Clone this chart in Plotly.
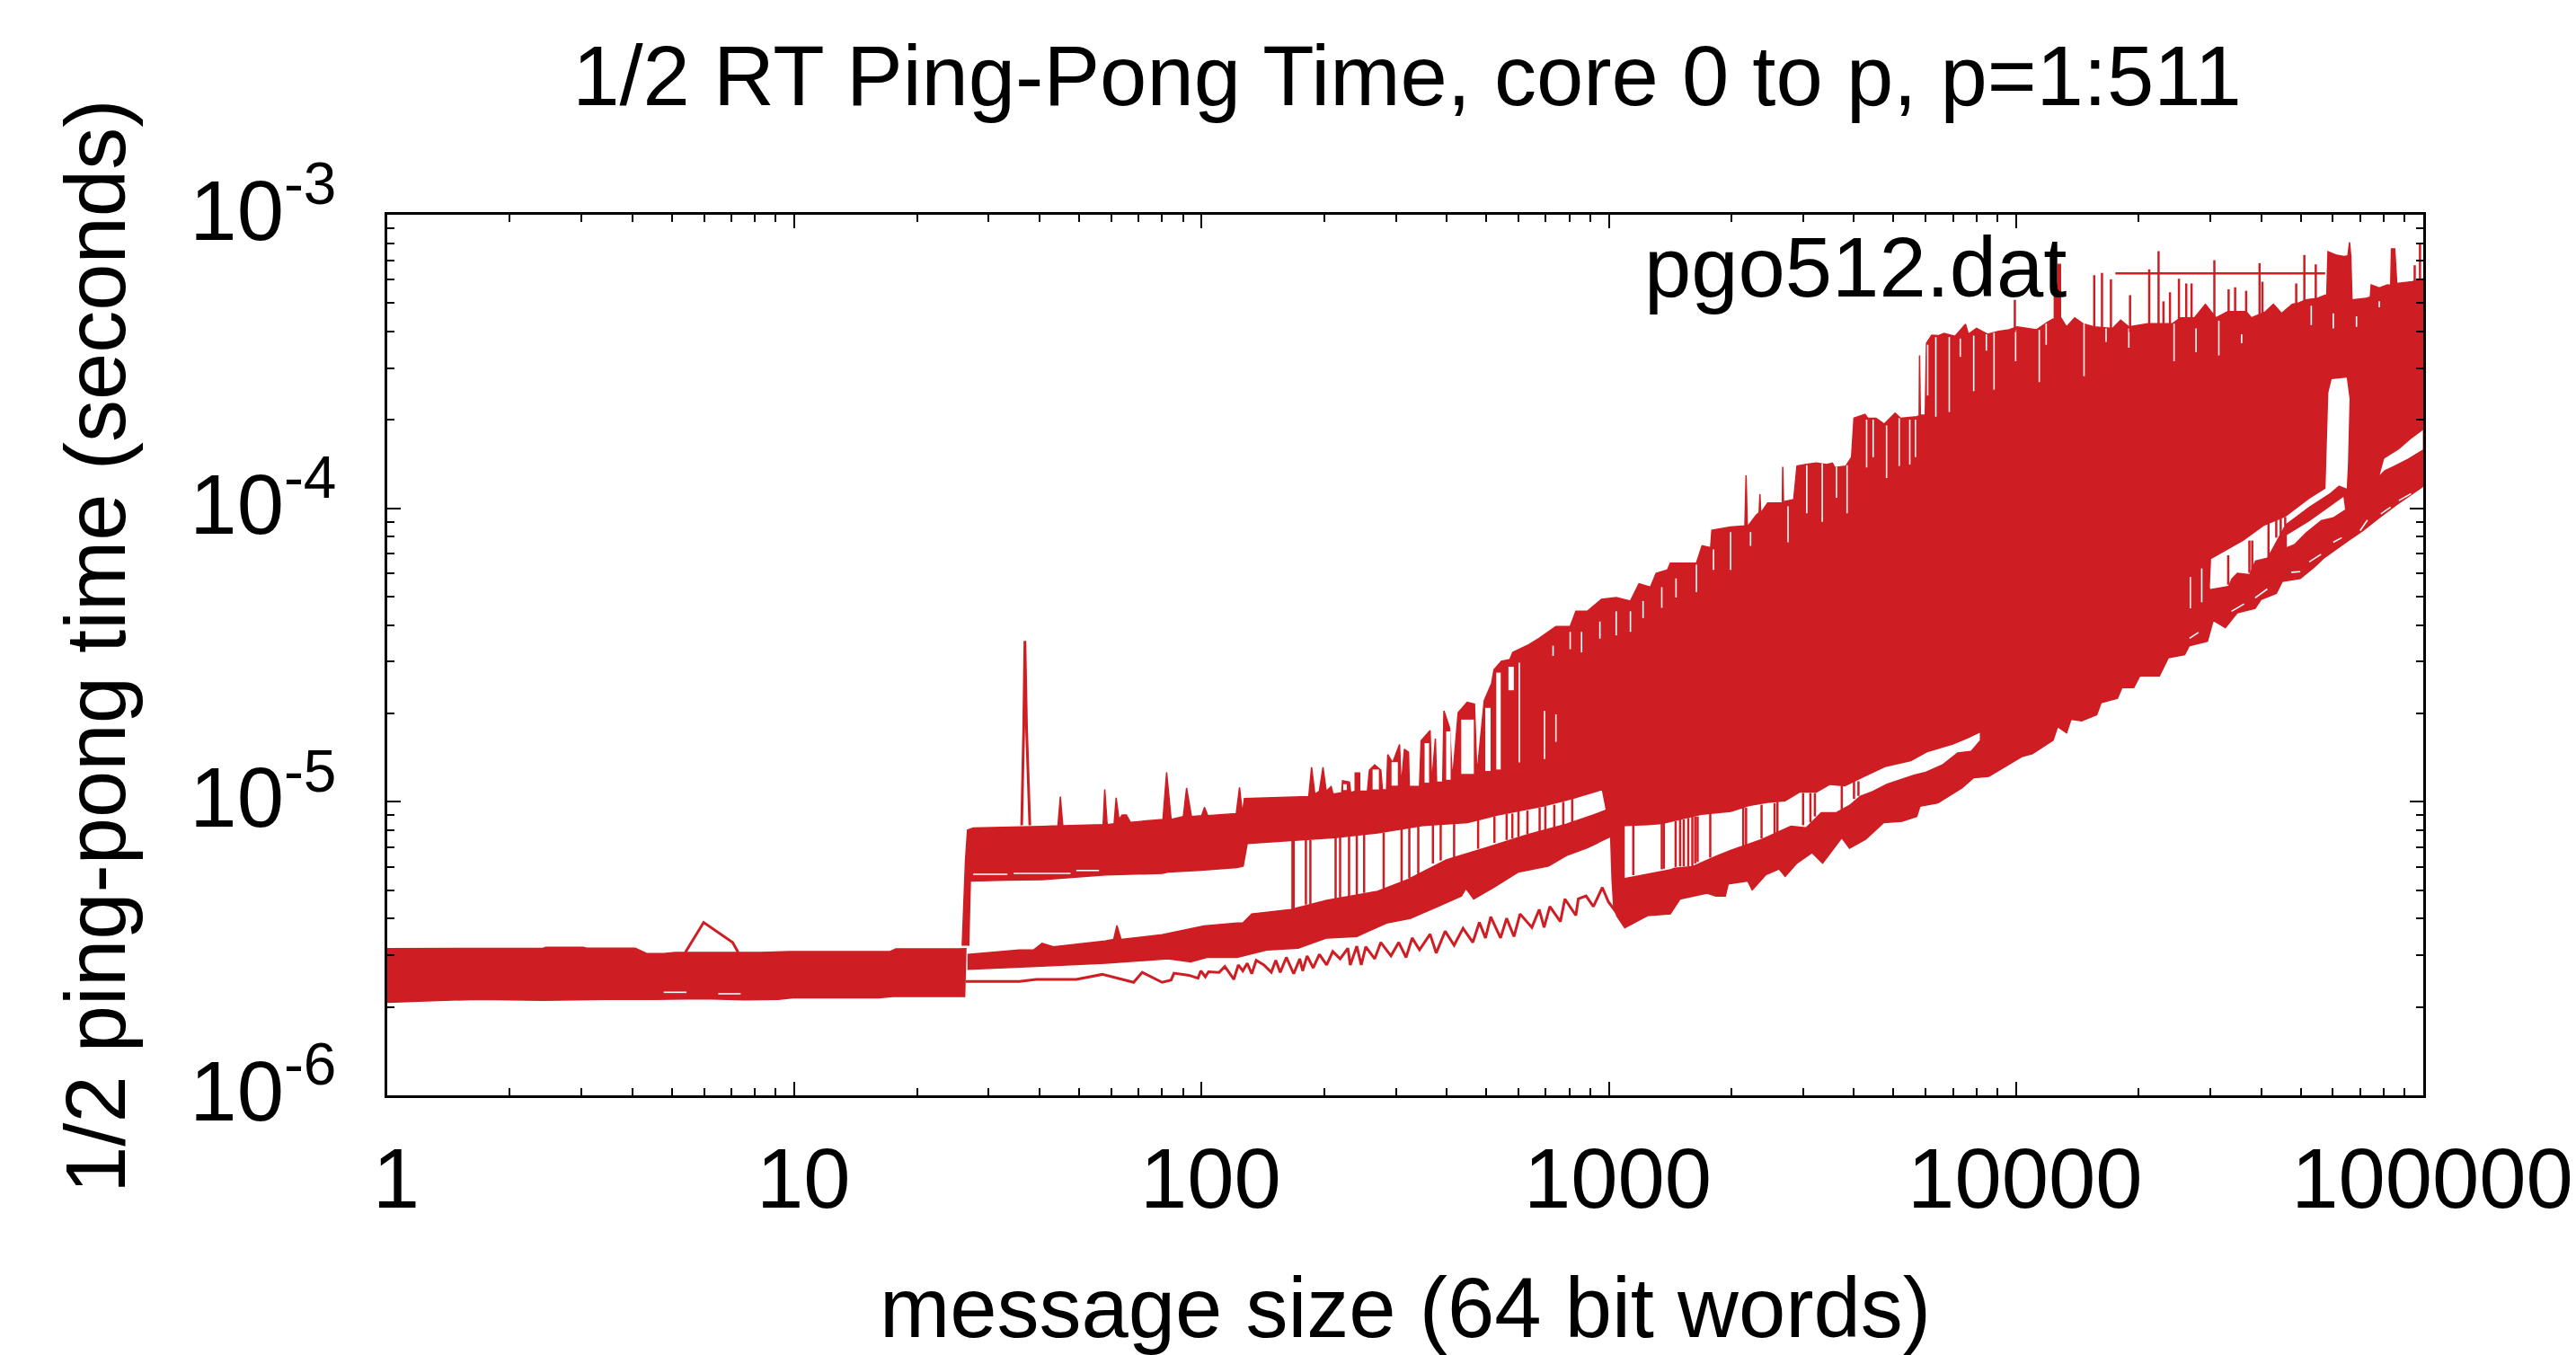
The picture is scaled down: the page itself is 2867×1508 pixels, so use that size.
import numpy as np
import plotly.graph_objects as go

# All readings are (log10 message size, log10 seconds).
plateau_upper = [(0,-5.500),(.383,-5.499),(.390,-5.496),(.482,-5.496),(.489,-5.499),(.609,-5.499),(.637,-5.517),(.679,-5.517),
    (.707,-5.513),(.918,-5.513),(.989,-5.510),(1.235,-5.510),(1.249,-5.501),(1.404,-5.501),(1.421,-5.500)]
plateau_lower = [(1.418,-5.663),(1.404,-5.663),(1.242,-5.663),(1.207,-5.668),(.996,-5.668),(.960,-5.673),(.876,-5.675),(.777,-5.671),
    (.651,-5.673),(.538,-5.673),(.383,-5.676),(.222,-5.673),(.109,-5.678),(0,-5.683)]
bump_line = [(.732,-5.513),(.777,-5.411),(.848,-5.479),(.862,-5.513)]
tall_spike = [(1.558,-5.08),(1.563,-4.75),(1.566,-4.452),(1.570,-4.75),(1.578,-5.08)]

main_upper = [(1.412,-5.49),(1.420,-5.2),(1.425,-5.096),(1.439,-5.089),(1.608,-5.084),(1.647,-5.082),(1.653,-4.982),(1.659,-5.082),
    (1.758,-5.078),(1.762,-4.958),(1.768,-5.078),(1.785,-5.075),(1.790,-4.986),(1.797,-5.06),(1.805,-5.045),(1.815,-5.045),(1.825,-5.07),
    (1.905,-5.06),(1.914,-4.900),(1.925,-5.06),(1.955,-5.05),(1.963,-4.953),(1.975,-5.05),(2.0,-5.047),(2.007,-5.019),(2.015,-5.047),
    (2.085,-5.04),(2.093,-4.951),(2.100,-5.04),(2.105,-4.989),(2.263,-4.982),(2.270,-4.882),(2.278,-4.974),(2.289,-4.964),(2.298,-4.882),
    (2.306,-4.964),(2.318,-4.948),(2.323,-4.974),(2.344,-4.969),(2.346,-4.928),(2.363,-4.933),(2.366,-4.969),(2.377,-4.964),(2.377,-4.902),
    (2.388,-4.902),(2.388,-4.964),(2.407,-4.964),(2.412,-4.892),(2.425,-4.874),(2.440,-4.892),(2.444,-4.959),(2.454,-4.959),(2.457,-4.839),
    (2.469,-4.867),(2.486,-4.805),(2.490,-4.948),(2.498,-4.821),(2.508,-4.831),(2.510,-4.948),(2.535,-4.948),(2.539,-4.792),(2.561,-4.757),
    (2.565,-4.938),(2.574,-4.785),(2.577,-4.933),(2.592,-4.933),(2.595,-4.690),(2.609,-4.749),(2.616,-4.925),(2.630,-4.696),(2.652,-4.661),
    (2.670,-4.667),(2.676,-4.907),(2.694,-4.655),(2.712,-4.597),(2.718,-4.550),(2.736,-4.521),(2.757,-4.515),(2.764,-4.491),(2.799,-4.468),
    (2.828,-4.444),(2.870,-4.403),(2.905,-4.403),(2.919,-4.351),(2.947,-4.351),(2.982,-4.310),(3.018,-4.304),(3.053,-4.316),(3.074,-4.257),
    (3.102,-4.269),(3.116,-4.222),(3.144,-4.210),(3.151,-4.187),(3.215,-4.187),(3.229,-4.128),(3.250,-4.134),(3.253,-4.075),(3.299,-4.064),
    (3.334,-4.060),(3.337,-3.888),(3.340,-4.060),(3.343,-4.058),(3.362,-4.023),(3.369,-4.015),(3.371,-3.952),(3.373,-4.013),(3.376,-4.011),(3.390,-3.982),(3.426,-3.982),(3.427,-3.859),
    (3.429,-3.980),(3.433,-3.976),(3.454,-3.970),(3.462,-3.856),(3.482,-3.851),(3.509,-3.846),(3.535,-3.851),(3.549,-3.846),(3.555,-3.861),(3.582,-3.856),
    (3.596,-3.826),(3.602,-3.693),(3.629,-3.680),(3.636,-3.693),(3.656,-3.693),(3.676,-3.713),(3.703,-3.676),(3.716,-3.693),(3.756,-3.688),
    (3.762,-3.685),(3.763,-3.479),(3.765,-3.683),(3.777,-3.683),(3.780,-3.438),(3.793,-3.410),(3.809,-3.412),(3.823,-3.404),(3.850,-3.414),(3.876,-3.373),(3.883,-3.407),
    (3.903,-3.387),(3.930,-3.407),(3.957,-3.397),(3.983,-3.392),(4.003,-3.382),(4.050,-3.392),(4.077,-3.366),(4.090,-3.356),(4.110,-3.351),
    (4.124,-3.382),(4.144,-3.351),(4.164,-3.371),(4.191,-3.382),(4.237,-3.387),(4.257,-3.359),(4.277,-3.382),(4.324,-3.371),(4.355,-3.371),
    (4.384,-3.371),(4.404,-3.351),(4.438,-3.351),(4.465,-3.305),(4.491,-3.351),(4.520,-3.33),(4.565,-3.33),(4.578,-3.351),(4.612,-3.331),
    (4.632,-3.305),(4.652,-3.336),(4.678,-3.305),(4.695,-3.300),(4.712,-3.290),(4.739,-3.285),(4.759,-3.274),(4.763,-3.274),(4.766,-3.126),
    (4.785,-3.137),(4.805,-3.142),(4.815,-3.14),(4.819,-3.094),(4.822,-3.14),(4.825,-3.290),(4.859,-3.285),(4.870,-3.28),(4.872,-3.239),
    (4.892,-3.249),(4.912,-3.239),(4.920,-3.24),(4.922,-3.116),(4.930,-3.116),(4.935,-3.234),(4.973,-3.228),(5.0,-3.218)]

# thin single spikes that rise above the main band: x, peak
spike_x = [3.997,4.095,4.100,4.104,4.108,4.192,4.211,4.233,4.280,4.327,4.350,4.362,4.378,4.400,4.418,4.431,4.487,4.522,4.538,4.565,4.598,4.605,4.688,4.708,4.736,4.979,4.992]
spike_peak = [-3.290,-3.234,-3.234,-3.167,-3.167,-3.206,-3.198,-3.220,-3.274,-3.186,-3.124,-3.295,-3.264,-3.218,-3.234,-3.234,-3.155,-3.254,-3.247,-3.259,-3.165,-3.228,-3.234,-3.137,-3.169,-3.172,-3.101]
spike_foot = [-3.40] * 16 + [-3.36] * 11

main_lower_right = [(3.039,-5.429),(3.095,-5.388),(3.151,-5.382),(3.175,-5.331),(3.241,-5.311),(3.263,-5.321),(3.286,-5.321),(3.293,-5.280),
    (3.341,-5.270),(3.352,-5.300),(3.385,-5.249),(3.418,-5.229),(3.433,-5.254),(3.462,-5.209),(3.499,-5.173),(3.525,-5.209),(3.550,-5.163),
    (3.572,-5.122),(3.591,-5.158),(3.631,-5.127),(3.675,-5.071),(3.720,-5.066),(3.756,-5.050),(3.764,-5.015),(3.808,-5.004),(3.867,-4.953),
    (3.896,-4.918),(3.933,-4.913),(3.977,-4.877),(4.014,-4.846),(4.040,-4.836),(4.091,-4.790),(4.102,-4.744),(4.124,-4.765),(4.135,-4.719),
    (4.161,-4.724),(4.198,-4.703),(4.209,-4.662),(4.249,-4.647),(4.260,-4.611),(4.289,-4.611),(4.304,-4.571),(4.352,-4.571),(4.374,-4.509),
    (4.414,-4.499),(4.425,-4.469),(4.470,-4.453),(4.484,-4.382),(4.514,-4.407),(4.543,-4.356),(4.587,-4.341),(4.602,-4.310),(4.639,-4.290),
    (4.654,-4.249),(4.698,-4.239),(4.734,-4.198),(4.757,-4.168),(4.815,-4.111),(4.852,-4.076),(4.889,-4.035),(4.933,-3.989),(5.0,-3.925)]
main_lower_left = [(3.020,-5.39),(3.012,-5.36),(3.008,-5.27),(3.004,-5.1),(2.984,-4.958),(2.910,-4.989),(2.837,-5.015),(2.727,-5.045),
    (2.653,-5.071),(2.543,-5.081),(2.432,-5.106),(2.326,-5.122),(2.219,-5.132),(2.112,-5.142),(2.102,-5.219),(2.087,-5.224),(1.991,-5.234),
    (1.9175,-5.239),(1.903,-5.244),(1.763,-5.249),(1.608,-5.265),(1.523,-5.267),(1.432,-5.270),(1.428,-5.49)]

middle_upper = [(1.425,-5.520),(1.552,-5.505),(1.587,-5.505),(1.608,-5.482),(1.636,-5.494),(1.763,-5.474),(1.784,-5.469),(1.792,-5.421),
    (1.802,-5.469),(1.903,-5.453),(2.006,-5.423),(2.087,-5.413),(2.101,-5.413),(2.123,-5.382),(2.219,-5.367),(2.307,-5.336),(2.432,-5.305),
    (2.506,-5.265),(2.601,-5.198),(2.697,-5.157),(2.800,-5.112),(2.896,-5.076),(2.962,-5.045),(2.999,-5.025)]
middle_lower = [(3.006,-5.117),(2.947,-5.157),(2.896,-5.183),(2.852,-5.219),(2.778,-5.239),(2.719,-5.290),(2.668,-5.331),(2.649,-5.295),
    (2.638,-5.321),(2.579,-5.357),(2.513,-5.397),(2.454,-5.413),(2.381,-5.459),(2.307,-5.464),(2.237,-5.499),(2.160,-5.505),(2.087,-5.530),
    (2.013,-5.530),(1.973,-5.545),(1.9175,-5.535),(1.763,-5.550),(1.594,-5.561),(1.425,-5.571)]

lowest_curve = [(1.421,-5.612),(1.552,-5.612),(1.594,-5.605),(1.692,-5.605),(1.756,-5.588),(1.833,-5.615),(1.854,-5.581),(1.903,-5.615),
    (1.925,-5.607),(1.932,-5.584),(1.969,-5.591),(1.991,-5.601),(1.998,-5.576),(2.009,-5.596),(2.017,-5.579),(2.043,-5.581),(2.057,-5.561),
    (2.079,-5.605),(2.090,-5.556),(2.101,-5.576),(2.112,-5.550),(2.123,-5.586),(2.134,-5.540),(2.153,-5.556),(2.171,-5.581),(2.182,-5.540),
    (2.193,-5.581),(2.208,-5.530),(2.226,-5.586),(2.241,-5.535),(2.248,-5.576),(2.259,-5.525),(2.274,-5.566),(2.289,-5.520),(2.307,-5.556),
    (2.322,-5.510),(2.340,-5.535),(2.359,-5.499),(2.365,-5.556),(2.381,-5.492),(2.392,-5.556),(2.403,-5.494),(2.425,-5.535),(2.440,-5.479),
    (2.465,-5.525),(2.484,-5.479),(2.502,-5.530),(2.517,-5.464),(2.535,-5.504),(2.561,-5.451),(2.576,-5.515),(2.598,-5.441),(2.620,-5.489),
    (2.642,-5.431),(2.666,-5.479),(2.682,-5.411),(2.697,-5.464),(2.710,-5.392),(2.734,-5.464),(2.749,-5.397),(2.767,-5.459),(2.782,-5.382),
    (2.811,-5.428),(2.829,-5.367),(2.841,-5.428),(2.855,-5.357),(2.881,-5.408),(2.892,-5.331),(2.919,-5.387),(2.925,-5.331),(2.944,-5.321),
    (2.962,-5.357),(2.984,-5.292),(2.999,-5.341),(3.021,-5.382)]

window_a = [(3.039,-5.083),(3.095,-5.08),(3.131,-5.076),(3.161,-5.066),(3.227,-5.045),(3.300,-5.035),(3.344,-5.015),(3.389,-5.004),
    (3.433,-4.999),(3.469,-4.969),(3.510,-4.969),(3.543,-4.943),(3.580,-4.948),(3.624,-4.918),(3.679,-4.882),(3.742,-4.862),(3.782,-4.831),
    (3.845,-4.805),(3.881,-4.785),(3.911,-4.765),(3.911,-4.790),(3.889,-4.826),(3.856,-4.831),(3.819,-4.872),(3.778,-4.897),(3.749,-4.907),
    (3.683,-4.938),(3.646,-4.964),(3.617,-4.979),(3.591,-5.010),(3.558,-5.035),(3.521,-5.035),(3.484,-5.086),(3.447,-5.081),(3.374,-5.127),
    (3.300,-5.163),(3.264,-5.183),(3.205,-5.219),(3.161,-5.224),(3.151,-5.229),(3.039,-5.259)]
window_b = [(4.476,-4.270),(4.479,-4.173),(4.558,-4.111),(4.609,-4.060),(4.661,-4.030),(4.720,-3.968),(4.760,-3.933),(4.767,-3.606),
    (4.775,-3.560),(4.812,-3.555),(4.819,-3.627),(4.815,-3.851),(4.812,-3.933),(4.793,-3.922),(4.771,-3.948),(4.720,-3.994),(4.661,-4.055),
    (4.617,-4.168),(4.587,-4.178),(4.573,-4.224),(4.543,-4.219),(4.529,-4.239),(4.521,-4.264),(4.477,-4.275)]
window_c = [(4.665,-4.091),(4.720,-4.045),(4.771,-3.994),(4.804,-3.961),(4.808,-4.004),(4.779,-4.030),(4.749,-4.040),(4.712,-4.081),
    (4.683,-4.122),(4.665,-4.132)]
window_d = [(4.893,-3.887),(4.904,-3.831),(4.940,-3.800),(4.970,-3.764),(4.999,-3.734),(4.999,-3.800),(4.962,-3.831),(4.926,-3.856),(4.904,-3.871)]

thin_gaps = [
    [(.679,-5.649),(.735,-5.649)],[(.813,-5.654),(.868,-5.654)],
    [(1.439,-5.247),(1.523,-5.247)],[(1.538,-5.244),(1.678,-5.244)],[(1.692,-5.234),(1.748,-5.234)],
    [(4.428,-4.234),(4.428,-4.341)],[(4.456,-4.205),(4.456,-4.32)],
    [(4.426,-4.443),(4.448,-4.423)],[(4.529,-4.351),(4.560,-4.326)],[(4.587,-4.305),(4.617,-4.275)],[(4.676,-4.218),(4.698,-4.216)],
    [(4.720,-4.183),(4.749,-4.157)],[(4.779,-4.116),(4.800,-4.100)],[(4.845,-4.076),(4.863,-4.040)],[(4.896,-4.019),(4.920,-3.996)],[(4.940,-3.974),(4.970,-3.950)],
]

# narrow white slits seen below the top edge: x, slit top, slit bottom
slit_x = [2.780,2.842,2.870,2.863,2.905,2.933,2.978,3.018,3.053,3.084,3.130,3.165,3.215,3.257,3.299,3.348,3.440,3.486,3.524,3.559,3.585,
          3.633,3.649,3.682,3.713,3.739,3.753,3.783,3.803,3.836,3.863,3.896,3.927,3.946,3.999,4.057,4.074,4.167,4.221,4.277,4.388,4.442,4.498,4.554,4.725,4.779,4.836,4.892]
slit_top = [-4.526,-4.690,-4.702,-4.468,-4.421,-4.421,-4.386,-4.351,-4.351,-4.316,-4.269,-4.239,-4.192,-4.140,-4.081,-4.081,-3.993,-3.853,-3.847,-3.859,-3.853,
            -3.698,-3.698,-3.718,-3.693,-3.698,-3.698,-3.443,-3.417,-3.417,-3.422,-3.412,-3.407,-3.402,-3.392,-3.392,-3.371,-3.371,-3.387,-3.387,-3.371,-3.387,-3.361,-3.407,-3.310,-3.336,-3.346,-3.295]
slit_bottom = [-4.866,-4.854,-4.796,-4.503,-4.480,-4.491,-4.444,-4.433,-4.421,-4.374,-4.339,-4.304,-4.286,-4.210,-4.210,-4.128,-4.116,-4.017,-4.046,-3.964,-4.017,
               -3.861,-3.826,-3.897,-3.856,-3.851,-3.826,-3.616,-3.688,-3.672,-3.484,-3.601,-3.463,-3.596,-3.499,-3.570,-3.443,-3.550,-3.433,-3.453,-3.499,-3.468,-3.479,-3.438,-3.376,-3.387,-3.382,-3.315]
# wider white openings under the humps: x, top, bottom, width in points
opening_x = [2.352,2.4275,2.474,2.553,2.606,2.653,2.703,2.729,2.760]
opening_top = [-4.94,-4.89,-4.865,-4.80,-4.76,-4.72,-4.68,-4.56,-4.54]
opening_bottom = [-4.96,-4.958,-4.945,-4.935,-4.925,-4.905,-4.895,-4.89,-4.62]
opening_width = [4,7,7,5,5,14,6,5,6]

bridge_x = [2.223,2.226,2.256,2.267,2.329,2.340,2.362,2.381,2.399,2.447,2.491,2.510,2.532,2.568,2.587,2.620,2.679,2.719,2.749,2.763,2.778,2.800,2.830,2.844,2.866,2.888,2.910,
            3.060,3.130,3.135,3.164,3.175,3.184,3.195,3.205,3.212,3.218,3.249,3.330,3.337,3.375,3.407,3.414,3.477,3.495,3.506,3.572,3.602,3.613,
            4.521,4.573,4.580,4.620,4.639,4.650,4.661]
bridge_top = [-5.13,-5.13,-5.13,-5.13,-5.12,-5.12,-5.115,-5.11,-5.11,-5.105,-5.09,-5.085,-5.08,-5.075,-5.075,-5.07,-5.06,-5.05,-5.04,-5.04,-5.03,-5.03,-5.02,-5.015,-5.01,-5.0,-4.99,
              -5.08,-5.07,-5.072,-5.066,-5.06,-5.06,-5.055,-5.05,-5.05,-5.05,-5.04,-5.02,-5.02,-5.01,-5.005,-5.0,-4.97,-4.97,-4.97,-4.945,-4.93,-4.93,
              -4.16,-4.11,-4.11,-4.05,-4.04,-4.035,-4.03]
bridge_bottom = [-5.365,-5.365,-5.35,-5.35,-5.33,-5.33,-5.325,-5.32,-5.31,-5.30,-5.28,-5.26,-5.25,-5.21,-5.20,-5.19,-5.16,-5.14,-5.13,-5.125,-5.12,-5.11,-5.10,-5.095,-5.09,-5.08,-5.07,
                 -5.25,-5.23,-5.228,-5.222,-5.22,-5.22,-5.22,-5.219,-5.21,-5.205,-5.19,-5.15,-5.15,-5.125,-5.11,-5.105,-5.08,-5.07,-5.05,-5.03,-4.99,-4.98,
                 -4.26,-4.22,-4.22,-4.17,-4.10,-4.09,-4.06]

key_line = [(4.244,-3.200),(4.759,-3.200)]

x_tick_values = [1, 10, 100, 1000, 10000, 100000]
x_tick_labels = ["1", "10", "100", "1000", "10000", "100000"]
y_tick_values = [1e-6, 1e-5, 1e-4, 1e-3]
y_tick_labels = ["10<sup>-6</sup>", "10<sup>-5</sup>", "10<sup>-4</sup>", "10<sup>-3</sup>"]
x_minor = [m * d for d in (1, 10, 100, 1000, 10000) for m in range(2, 10)]
y_minor = [m * d for d in (1e-6, 1e-5, 1e-4) for m in range(2, 10)]

RED = "#CE1D23"
FONT = "Liberation Sans"
SIZE = 94


def split(points):
    a = np.array(points, dtype=float)
    return 10 ** a[:, 0], 10 ** a[:, 1]


fig = go.Figure()


def area(points, color=RED, line=1.5):
    x, y = split(points)
    fig.add_trace(go.Scatter(x=x, y=y, mode="lines", fill="toself", fillcolor=color,
                             line=dict(color=color, width=line, simplify=False), hoverinfo="skip", showlegend=False))


def stroke(points, color=RED, width=3.0):
    x, y = split(points)
    fig.add_trace(go.Scatter(x=x, y=y, mode="lines", line=dict(color=color, width=width, simplify=False),
                             hoverinfo="skip", showlegend=False))


def verticals(xs, tops, bottoms, color, width):
    vx, vy = [], []
    for x0, t, b in zip(xs, tops, bottoms):
        vx += [10 ** x0, 10 ** x0, None]
        vy += [10 ** t, 10 ** b, None]
    fig.add_trace(go.Scatter(x=vx, y=vy, mode="lines", line=dict(color=color, width=width, simplify=False),
                             hoverinfo="skip", showlegend=False))


area(plateau_upper + plateau_lower)
area(main_upper + main_lower_right[::-1] + main_lower_left)
area(middle_upper + middle_lower)
stroke(lowest_curve)
stroke(bump_line)
stroke(tall_spike)
for w in (window_a, window_b, window_c, window_d):
    area(w, color="white", line=0)
for g in thin_gaps:
    stroke(g, color="white", width=1.6)
verticals(slit_x, slit_top, slit_bottom, "white", 1.6)
for x0, t, b, wd in zip(opening_x, opening_top, opening_bottom, opening_width):
    verticals([x0], [t], [b], "white", wd)
verticals(bridge_x, bridge_top, bridge_bottom, RED, 2.5)
verticals(spike_x, spike_peak, spike_foot, RED, 2.5)
stroke(key_line, width=2.5)

axis_common = dict(showgrid=False, zeroline=False, showline=True, linecolor="black", linewidth=2.5, mirror="ticks",
                   ticks="inside", ticklen=15, tickwidth=2, tickcolor="black", automargin=False,
                   tickfont=dict(family=FONT, size=SIZE, color="black"))
fig.update_xaxes(type="log", range=[0, 5], tickmode="array", tickvals=x_tick_values, ticktext=x_tick_labels,
                 minor=dict(tickmode="array", tickvals=x_minor, ticks="inside", ticklen=8, tickwidth=2, tickcolor="black"),
                 ticklabelshift=10, ticklabelstandoff=9,
                 title=dict(text="message size (64 bit words)", font=dict(family=FONT, size=SIZE, color="black"), standoff=68),
                 **axis_common)
fig.update_yaxes(type="log", range=[-6, -3], tickmode="array", tickvals=y_tick_values, ticktext=y_tick_labels,
                 minor=dict(tickmode="array", tickvals=y_minor, ticks="inside", ticklen=8, tickwidth=2, tickcolor="black"),
                 ticklabelstandoff=35, ticklabelshift=-5,
                 **axis_common)
fig.update_layout(
    width=2867, height=1508, autosize=False, margin=dict(l=431, r=170, t=239, b=289, pad=0),
    paper_bgcolor="white", plot_bgcolor="white", showlegend=False,
    title=dict(text="1/2 RT Ping-Pong Time, core 0 to p, p=1:511", x=1566 / 2867, xanchor="center",
               y=1 - 84 / 1508, yanchor="middle", font=dict(family=FONT, size=SIZE, color="black")),
    annotations=[
        dict(text="pgo512.dat", xref="paper", yref="paper", x=0.6165, y=0.9408, xanchor="left", yanchor="middle",
             showarrow=False, font=dict(family=FONT, size=SIZE, color="black")),
        dict(text="1/2 ping-pong time (seconds)", xref="paper", yref="paper", x=(106 - 431) / 2266, y=(1219 - 720) / 980,
             xanchor="center", yanchor="middle", textangle=-90, showarrow=False,
             font=dict(family=FONT, size=SIZE, color="black")),
    ],
)
fig.write_html("out.html", post_script="document.body.style.margin='0';", config={"displayModeBar": False})
